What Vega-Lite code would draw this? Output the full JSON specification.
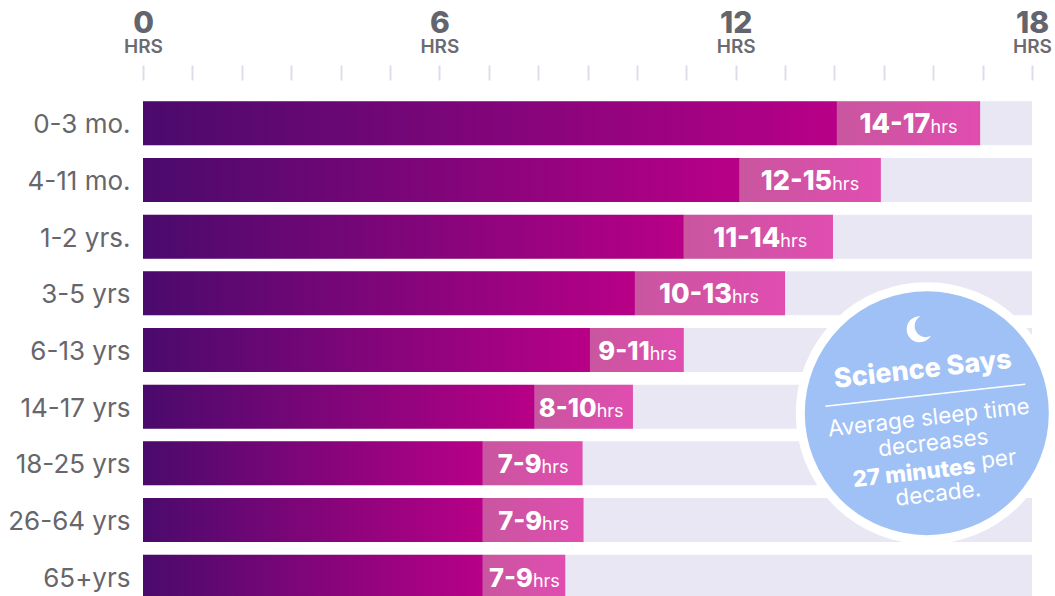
{
"$schema":"https://vega.github.io/schema/vega-lite/v6.json",
"width":889,"height":510,
"autosize":"none",
"padding":{"left":143,"top":95,"right":23,"bottom":0},
"background":"white",
"view":{"stroke":null},
"config":{"font":"Inter","axis":{"grid":false,"title":null}},
"data":{"values":[
{"age":"0-3 mo.","from":0,"lo":14.05,"hi":16.95,"to":18,"label":"14-17"},
{"age":"4-11 mo.","from":0,"lo":12.08,"hi":14.94,"to":18,"label":"12-15"},
{"age":"1-2 yrs.","from":0,"lo":10.95,"hi":13.97,"to":18,"label":"11-14"},
{"age":"3-5 yrs","from":0,"lo":9.96,"hi":13.0,"to":18,"label":"10-13"},
{"age":"6-13 yrs","from":0,"lo":9.05,"hi":10.95,"to":18,"label":"9-11"},
{"age":"14-17 yrs","from":0,"lo":7.93,"hi":9.92,"to":18,"label":"8-10"},
{"age":"18-25 yrs","from":0,"lo":6.88,"hi":8.9,"to":18,"label":"7-9"},
{"age":"26-64 yrs","from":0,"lo":6.88,"hi":8.92,"to":18,"label":"7-9"},
{"age":"65+yrs","from":0,"lo":6.88,"hi":8.55,"to":18,"label":"7-9"}
]},
"resolve":{"axis":{"x":"independent"}},
"layer":[
{"mark":{"type":"bar","color":"#e9e7f4"},
 "encoding":{
  "x":{"field":"from","type":"quantitative","scale":{"domain":[0,18],"nice":false},
   "axis":{"orient":"top","offset":15,"values":[0,1,2,3,4,5,6,7,8,9,10,11,12,13,14,15,16,17,18],"labelExpr":"datum.value%6==0?'HRS':''","labelFontSize":19,"labelFontWeight":600,"labelColor":"#6b6b72","labelPadding":9,"labelOverlap":false,"labelBound":false,"labelFlush":false,"domain":false,"tickSize":15,"tickWidth":2,"tickColor":"#dddde9"}},
  "x2":{"field":"to"},
  "y":{"field":"age","type":"nominal","sort":null,"scale":{"paddingInner":0.224,"paddingOuter":0.112},"axis":{"orient":"left","domain":false,"ticks":false,"labelFontSize":26,"labelColor":"#66666b","labelPadding":13,"labelOffset":2,"labelFontWeight":400}}}},
{"mark":{"type":"bar","color":{"gradient":"linear","x1":0,"y1":0,"x2":1,"y2":0,"stops":[{"offset":0,"color":"#c9569f"},{"offset":1,"color":"#e04db0"}]}},
 "encoding":{"x":{"field":"lo","type":"quantitative",
   "axis":{"orient":"top","offset":15,"values":[0,6,12,18],"labelFontSize":30,"labelFontWeight":800,"labelColor":"#64646c","labelPadding":42,"labelOverlap":false,"labelBound":false,"labelFlush":false,"domain":false,"ticks":false}},
  "x2":{"field":"hi"},
  "y":{"field":"age","type":"nominal","sort":null}}},
{"mark":{"type":"bar","color":{"gradient":"linear","x1":0,"y1":0,"x2":1,"y2":0,"stops":[{"offset":0,"color":"#4a0a6c"},{"offset":1,"color":"#b80087"}]}},
 "encoding":{"x":{"field":"from","type":"quantitative","axis":null},"x2":{"field":"lo"},"y":{"field":"age","type":"nominal","sort":null}}},
{"transform":[{"calculate":"(datum.lo+datum.hi)/2+(length(datum.label)==5?0.445:length(datum.label)==4?0.26:0.18)","as":"anchor"}],
 "mark":{"type":"text","align":"right","baseline":"alphabetic","dy":10,"color":"white","fontWeight":800},
 "encoding":{"x":{"field":"anchor","type":"quantitative","axis":null},"y":{"field":"age","type":"nominal","sort":null},"text":{"field":"label"},"size":{"condition":{"test":"length(datum.label)==5","value":27},"value":25.5}}},
{"transform":[{"calculate":"(datum.lo+datum.hi)/2+(length(datum.label)==5?0.445:length(datum.label)==4?0.26:0.18)","as":"anchor"},{"calculate":"'hrs'","as":"unit"}],
 "mark":{"type":"text","align":"left","baseline":"alphabetic","dy":10,"color":"white","fontSize":18,"fontWeight":400},
 "encoding":{"x":{"field":"anchor","type":"quantitative","axis":null},"y":{"field":"age","type":"nominal","sort":null},"text":{"field":"unit"}}},
{"data":{"values":[{"x":15.87,"row":"14-17 yrs"}]},
 "mark":{"type":"point","filled":true,"fill":"#a0c1f5","stroke":"white","strokeWidth":9,"size":64009,"opacity":1,"yOffset":6.5},
 "encoding":{"x":{"field":"x","type":"quantitative","axis":null},"y":{"field":"row","type":"nominal","sort":null}}},
{"data":{"values":[{"x":15.69,"row":"3-5 yrs"}]},
 "mark":{"type":"point","filled":true,"fill":"white","opacity":1,"size":2704,"yOffset":36,"shape":"M0.1,-0.5A0.5,0.5 0 1 0 0.5,0.25A0.42,0.42 0 0 1 0.1,-0.5Z"},
 "encoding":{"x":{"field":"x","type":"quantitative","axis":null},"y":{"field":"row","type":"nominal","sort":null}}},
{"data":{"values":[{"x":15.84,"row":"14-17 yrs"}]},
 "mark":{"type":"point","filled":false,"stroke":"white","strokeWidth":1.5,"opacity":1,"size":40000,"yOffset":-11.5,"shape":"M-1,0.11L1,-0.11"},
 "encoding":{"x":{"field":"x","type":"quantitative","axis":null},"y":{"field":"row","type":"nominal","sort":null}}},
{"data":{"values":[{"x":15.79,"row":"6-13 yrs","t":"Science Says"}]},
 "mark":{"type":"text","angle":-6.5,"color":"white","fontSize":27,"fontWeight":800,"yOffset":20},
 "encoding":{"x":{"field":"x","type":"quantitative","axis":null},"y":{"field":"row","type":"nominal","sort":null},"text":{"field":"t"}}},
{"data":{"values":[{"x":15.91,"row":"14-17 yrs","t":"Average sleep time"}]},
 "mark":{"type":"text","angle":-6.5,"color":"white","fontSize":22.5,"fontWeight":400,"yOffset":11.5},
 "encoding":{"x":{"field":"x","type":"quantitative","axis":null},"y":{"field":"row","type":"nominal","sort":null},"text":{"field":"t"}}},
{"data":{"values":[{"x":16.0,"row":"14-17 yrs","t":"decreases"}]},
 "mark":{"type":"text","angle":-6.5,"color":"white","fontSize":22.5,"fontWeight":400,"yOffset":36.5},
 "encoding":{"x":{"field":"x","type":"quantitative","axis":null},"y":{"field":"row","type":"nominal","sort":null},"text":{"field":"t"}}},
{"data":{"values":[{"x":16.85,"row":"18-25 yrs","t":"27 minutes"}]},
 "mark":{"type":"text","angle":-6.5,"align":"right","color":"white","fontSize":22.5,"fontWeight":800,"yOffset":3},
 "encoding":{"x":{"field":"x","type":"quantitative","axis":null},"y":{"field":"row","type":"nominal","sort":null},"text":{"field":"t"}}},
{"data":{"values":[{"x":16.97,"row":"18-25 yrs","t":"per"}]},
 "mark":{"type":"text","angle":-6.5,"align":"left","color":"white","fontSize":22.5,"fontWeight":400,"yOffset":-2},
 "encoding":{"x":{"field":"x","type":"quantitative","axis":null},"y":{"field":"row","type":"nominal","sort":null},"text":{"field":"t"}}},
{"data":{"values":[{"x":16.1,"row":"26-64 yrs","t":"decade."}]},
 "mark":{"type":"text","angle":-6.5,"color":"white","fontSize":22.5,"fontWeight":400,"yOffset":-26},
 "encoding":{"x":{"field":"x","type":"quantitative","axis":null},"y":{"field":"row","type":"nominal","sort":null},"text":{"field":"t"}}}
]
}
